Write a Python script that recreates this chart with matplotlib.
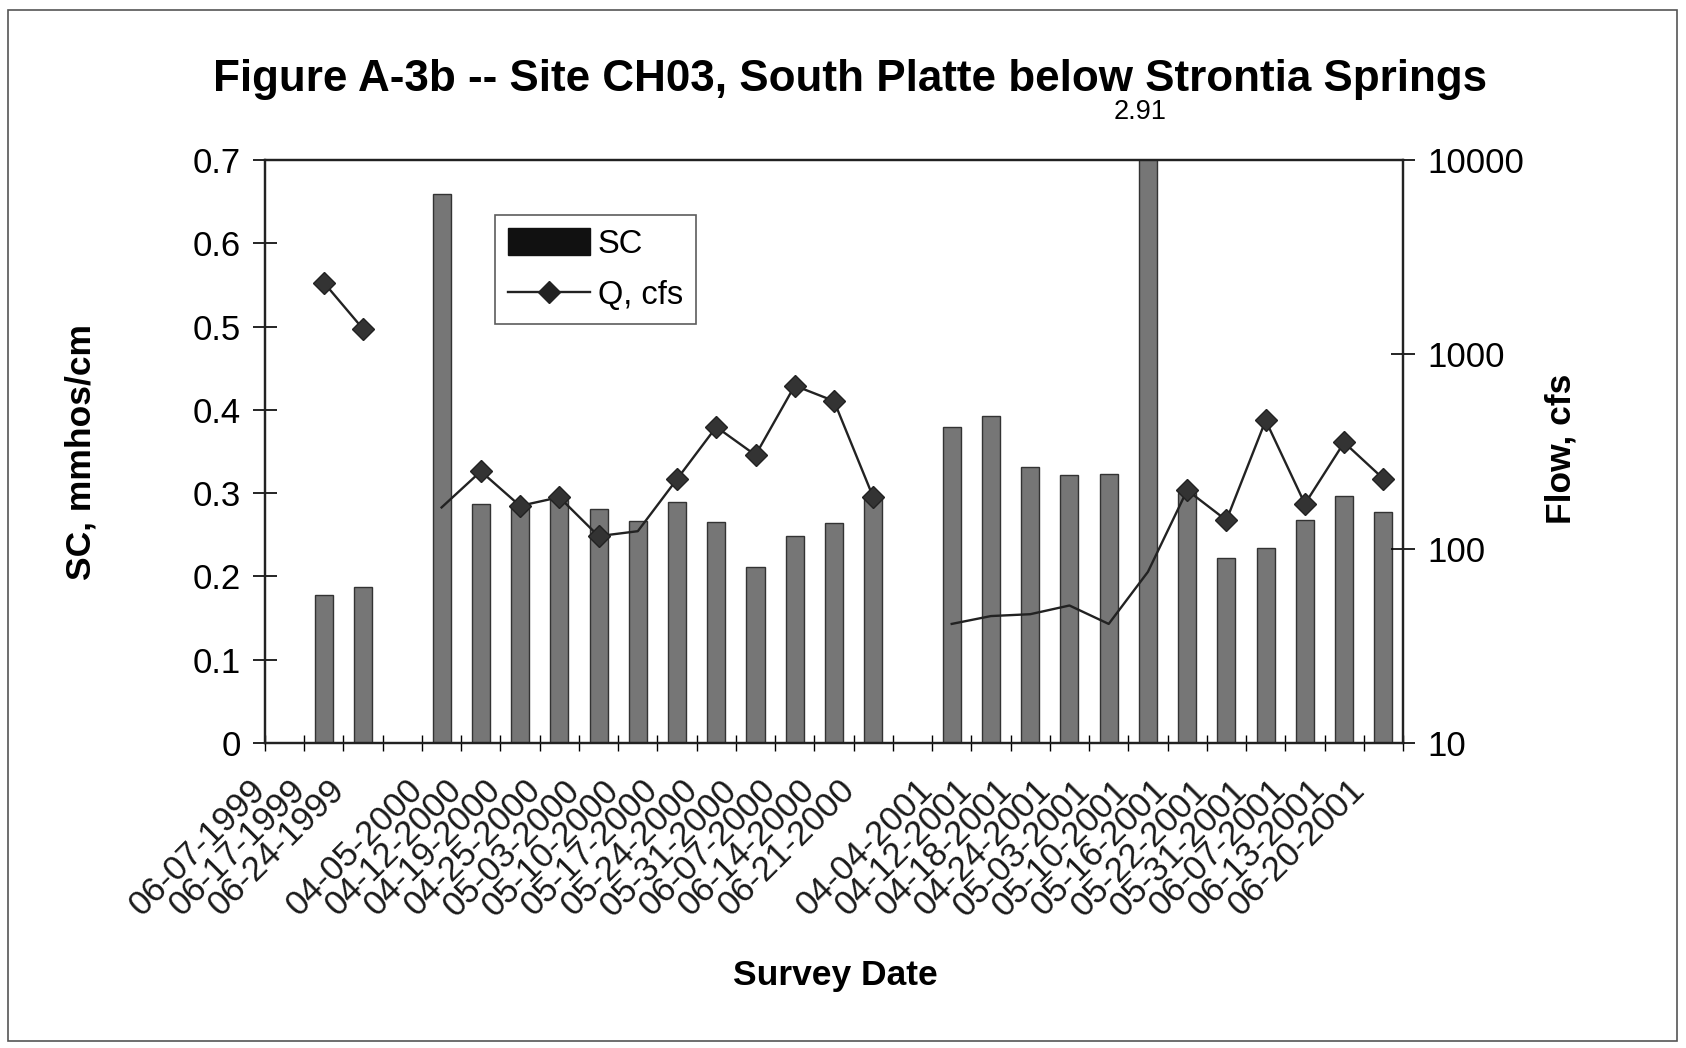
import matplotlib
matplotlib.use("Agg")
import matplotlib.pyplot as plt
import matplotlib.transforms as mtransforms
import numpy as np
from matplotlib.patches import Patch, Rectangle
from matplotlib.lines import Line2D

plt.rcParams['font.family'] = ['Liberation Sans', 'DejaVu Sans']

# ---- data ----
dates = ["06-07-1999", "06-17-1999", "06-24-1999", "",
         "04-05-2000", "04-12-2000", "04-19-2000", "04-25-2000", "05-03-2000", "05-10-2000",
         "05-17-2000", "05-24-2000", "05-31-2000", "06-07-2000", "06-14-2000", "06-21-2000", "",
         "04-04-2001", "04-12-2001", "04-18-2001", "04-24-2001", "05-03-2001", "05-10-2001",
         "05-16-2001", "05-22-2001", "05-31-2001", "06-07-2001", "06-13-2001", "06-20-2001"]
sc = [np.nan, 0.178, 0.187, np.nan,
      0.659, 0.287, 0.282, 0.292, 0.281, 0.266, 0.289, 0.265, 0.211, 0.248, 0.264, 0.295, np.nan,
      0.380, 0.393, 0.331, 0.322, 0.323, 2.91, 0.300, 0.222, 0.234, 0.268, 0.296, 0.277]
q = [np.nan, 2340, 1350, np.nan,
     163, 250, 166, 184, 116, 123, 228, 423, 303, 690, 575, 184, np.nan,
     41, 45, 46, 51, 41, 76, 200, 140, 457, 170, 352, 229]
sc_outlier_label = "2.91"
y_ticks = [0, 0.1, 0.2, 0.3, 0.4, 0.5, 0.6, 0.7]
q_ticks = [10, 100, 1000, 10000]
# points whose diamond marker is visible in the original scan
visible_markers = [1, 2, 5, 6, 7, 8, 10, 11, 12, 13, 14, 15, 23, 24, 25, 26, 27, 28]

W, H = 1686, 1048
fig = plt.figure(figsize=(W / 100, H / 100), dpi=100)
fig.patch.set_facecolor('white')
fig.add_artist(Rectangle((8 / W, 1 - 1041 / H), 1669 / W, 1031 / H, transform=fig.transFigure,
                         fill=False, edgecolor='#555555', linewidth=1.2))

ax = fig.add_axes([265 / W, 1 - 743 / H, 1138 / W, 583 / H])
x = np.arange(len(dates))
ax.bar(x, sc, width=0.46, color='#767676', edgecolor='#333333', linewidth=1.0, zorder=2)
ax.set_xlim(-0.5, len(dates) - 0.5)
ax.set_ylim(0, 0.7)
ax.set_yticks(y_ticks)
ax.set_yticklabels(["0" if v == 0 else f"{v:.1f}" for v in y_ticks], fontsize=25)
ax.set_xticks(x)
ax.set_xticklabels(dates, rotation=45, ha='right', va='center', rotation_mode='anchor',
                   fontsize=25, color='#1a1a1a')
ax.set_xticks(np.arange(len(dates) + 1) - 0.5, minor=True)
ax.tick_params(axis='x', which='major', length=0, pad=0)
ax.tick_params(axis='x', which='minor', length=12, direction='inout', width=1.0)
ax.tick_params(axis='y', length=17, direction='inout', width=1.2, pad=9)
off = mtransforms.ScaledTranslation(-24 / 100, -42 / 100, fig.dpi_scale_trans)
for lbl in ax.get_xticklabels():
    lbl.set_transform(lbl.get_transform() + off)
for s in ax.spines.values():
    s.set_linewidth(1.6)
    s.set_color('#222222')

ax2 = ax.twinx()
ax2.set_yscale('log')
ax2.set_ylim(10, 10000)
ax2.plot(x, q, color='#222222', linewidth=1.7, marker='D', markersize=11,
         markevery=visible_markers,
         markerfacecolor='#333333', markeredgecolor='#222222', zorder=3)
ax2.set_yticks(q_ticks)
ax2.set_yticklabels([str(v) for v in q_ticks], fontsize=25)
ax2.yaxis.set_minor_locator(matplotlib.ticker.NullLocator())
ax2.tick_params(axis='y', length=17, direction='inout', width=1.2, pad=9)
for s in ax2.spines.values():
    s.set_linewidth(1.6)
    s.set_color('#222222')

i_out = int(np.nanargmax(sc))
lab_off = mtransforms.ScaledTranslation(-8 / 100, 0, fig.dpi_scale_trans)
fig.text(x[i_out], 1 - 112 / H, sc_outlier_label, ha='center', va='center', fontsize=19.5,
         transform=mtransforms.blended_transform_factory(ax.transData, fig.transFigure) + lab_off)

handles = [Patch(facecolor='#111111', edgecolor='#111111'),
           Line2D([0], [0], color='#222222', linewidth=1.7, marker='D', markersize=11,
                  markerfacecolor='#222222')]
leg = ax.legend(handles, ["SC", "Q, cfs"], loc='upper left',
                bbox_to_anchor=((495 - 265) / 1138, 1 - (215 - 160) / 583),
                fontsize=23.5, frameon=True, fancybox=False, edgecolor='#333333',
                handlelength=2.5, handleheight=0.9, borderpad=0.4, labelspacing=0.6,
                handletextpad=0.25, borderaxespad=0)
leg.get_frame().set_linewidth(1.2)

fig.text(850 / W, 1 - 80 / H, "Figure A-3b -- Site CH03, South Platte below Strontia Springs",
         ha='center', va='center', fontsize=31.7, fontweight='bold')
fig.text(81 / W, 1 - 452 / H, "SC, mmhos/cm", rotation=90, ha='center', va='center',
         fontsize=25.5, fontweight='bold')
fig.text(1561 / W, 1 - 449 / H, "Flow, cfs", rotation=90, ha='center', va='center',
         fontsize=25.5, fontweight='bold')
fig.text(835 / W, 1 - 975 / H, "Survey Date", ha='center', va='center',
         fontsize=25.5, fontweight='bold')

fig.savefig("out.png", dpi=100)
